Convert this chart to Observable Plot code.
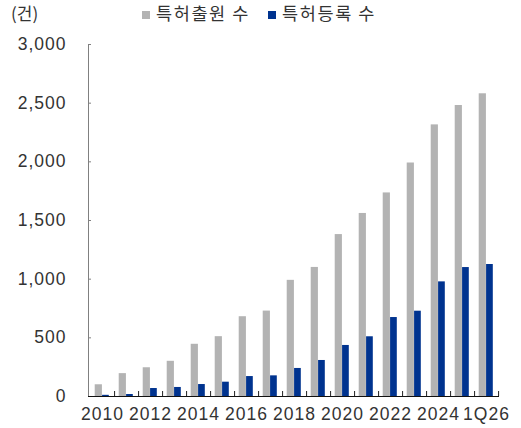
<!DOCTYPE html>
<html><head><meta charset="utf-8">
<script src="https://cdn.jsdelivr.net/npm/d3@7"></script>
<script src="https://cdn.jsdelivr.net/npm/@observablehq/plot@0.6"></script>
<style>
body{margin:0;background:#fff;}
#wrap{position:relative;width:521px;height:428px;}
#unit{position:absolute;left:11px;top:3px;font-family:"Noto Sans CJK KR","Liberation Sans",sans-serif;font-size:17px;color:#333;line-height:20px;}
#legend{position:absolute;left:142px;top:3px;font-family:"Noto Sans CJK KR",sans-serif;font-size:17.5px;color:#333;line-height:20px;white-space:nowrap;letter-spacing:1.6px;}
#legend span.item{display:inline-block;margin-right:18px;}
#legend i{display:inline-block;width:8px;height:8px;margin-right:6px;vertical-align:1px;}
#chart{position:absolute;left:0;top:0;}
#chart svg text{letter-spacing:1px;}
</style></head><body>
<div id="wrap">
<div id="chart"></div>
<div id="unit">(건)</div>
<div id="legend"></div>
</div>
<script>
const categories = ["2010","2011","2012","2013","2014","2015","2016","2017","2018","2019","2020","2021","2022","2023","2024","2025","1Q26"];
const applications = [100,195,245,300,445,510,680,728,990,1100,1380,1560,1735,1990,2315,2480,2580];
const registrations = [10,17,68,77,102,122,170,176,239,307,435,509,673,727,977,1099,1125];
const xTickLabels = ["2010","2012","2014","2016","2018","2020","2022","2024","1Q26"];
const yTicks = [0,500,1000,1500,2000,2500,3000];
const seriesNames = ["특허출원 수","특허등록 수"];
const seriesColors = ["#b3b3b3","#00338f"];

const rows = categories.map((c, i) => ({category: c, app: applications[i], reg: registrations[i]}));

const W = 521, H = 428, mL = 88, mR = 22, mT = 44, mB = 32;
const bw = (W - mL - mR) / categories.length;

const plot = Plot.plot({
  width: W, height: H,
  marginLeft: mL, marginRight: mR, marginTop: mT, marginBottom: mB,
  style: {fontFamily: "Liberation Sans, Arial, sans-serif", fontSize: "17.5px", color: "#333", background: "#fff"},
  x: {type: "band", domain: categories, padding: 0, axis: null},
  y: {domain: [0, 3000], axis: null},
  marks: [
    Plot.barY(rows, {x: "category", y: "app", fill: seriesColors[0], insetLeft: bw * 0.195, insetRight: bw * 0.5}),
    Plot.barY(rows, {x: "category", y: "reg", fill: seriesColors[1], insetLeft: bw * 0.5, insetRight: bw * 0.215}),
    Plot.frame({anchor: "left", stroke: "#808080"}),
    Plot.axisY({ticks: yTicks, tickSize: 3, dx: 3, tickFormat: () => "", stroke: "#808080", label: null}),
    Plot.axisY({ticks: yTicks, tickFormat: d3.format(","), tickSize: 0, tickPadding: 22, fill: "#333", label: null}),
    Plot.axisX({ticks: categories, tickSize: 5, dx: bw / 2, dy: -5, tickFormat: () => "", stroke: "#222", label: null}),
    Plot.axisX({ticks: xTickLabels, tickSize: 0, tickPadding: 11, fill: "#333", label: null}),
    Plot.ruleY([0], {stroke: "#111"})
  ]
});
document.getElementById("chart").appendChild(plot);

const lg = document.getElementById("legend");
seriesNames.forEach((n, i) => {
  const s = document.createElement("span");
  s.className = "item";
  const sw = document.createElement("i");
  sw.style.background = seriesColors[i];
  s.appendChild(sw);
  s.appendChild(document.createTextNode(n));
  lg.appendChild(s);
});
</script>
</body></html>
